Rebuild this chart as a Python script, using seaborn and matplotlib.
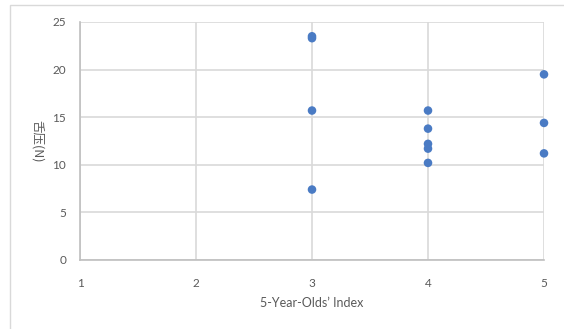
import matplotlib
matplotlib.use("Agg")
import matplotlib.pyplot as plt
import seaborn as sns
import pandas as pd
from matplotlib.patches import Rectangle

# values
index_vals = [3, 3, 3, 3, 4, 4, 4, 4, 4, 5, 5, 5]
pressure_vals = [23.5, 23.3, 15.7, 7.4, 15.7, 13.8, 12.2, 11.7, 10.2, 19.5, 14.4, 11.2]
x_ticks = [1, 2, 3, 4, 5]
y_ticks = [0, 5, 10, 15, 20, 25]

df = pd.DataFrame({"index": index_vals, "pressure": pressure_vals})

sns.set_style("white")
plt.rcParams["font.family"] = ["Lato", "Noto Sans CJK SC", "DejaVu Sans"]

grid_col = "#D9D9D9"
text_col = "#595959"

fig = plt.figure(figsize=(5.64, 3.29), dpi=100)
# outer chart frame (cut off at right/bottom like the reference)
fig.patches.append(Rectangle((10 / 564, -0.1), 1.0, (329 - 5) / 329 + 0.1,
                             transform=fig.transFigure, fill=False,
                             edgecolor=grid_col, linewidth=1.0))

ax = fig.add_axes([80 / 564, (329 - 260) / 329, 464 / 564, 238 / 329])
sns.scatterplot(data=df, x="index", y="pressure", ax=ax, color="#4a7bc4",
                s=38, edgecolor="none", zorder=3, clip_on=False)

ax.set_xlim(1, 5)
ax.set_ylim(0, 25)
ax.set_xticks(x_ticks)
ax.set_yticks(y_ticks)
ax.grid(True, color=grid_col, linewidth=1.2)
ax.set_axisbelow(True)
for side in ["top", "right"]:
    ax.spines[side].set_visible(False)
for side in ["left", "bottom"]:
    ax.spines[side].set_color("#BFBFBF")
    ax.spines[side].set_linewidth(1.2)

ax.tick_params(length=0, labelsize=8.5, labelcolor=text_col)
ax.tick_params(axis="x", pad=13)
ax.tick_params(axis="y", pad=10)

ax.set_xlabel("5-Year-Olds\u2019 Index", fontsize=9, color=text_col, labelpad=6)
ax.set_ylabel("舌压(N)", fontsize=9, color=text_col, rotation=270,
              va="center", family=["Noto Sans CJK SC", "DejaVu Sans"])
ax.yaxis.set_label_coords(-0.093, 0.5)

fig.savefig("out.png", dpi=100)
